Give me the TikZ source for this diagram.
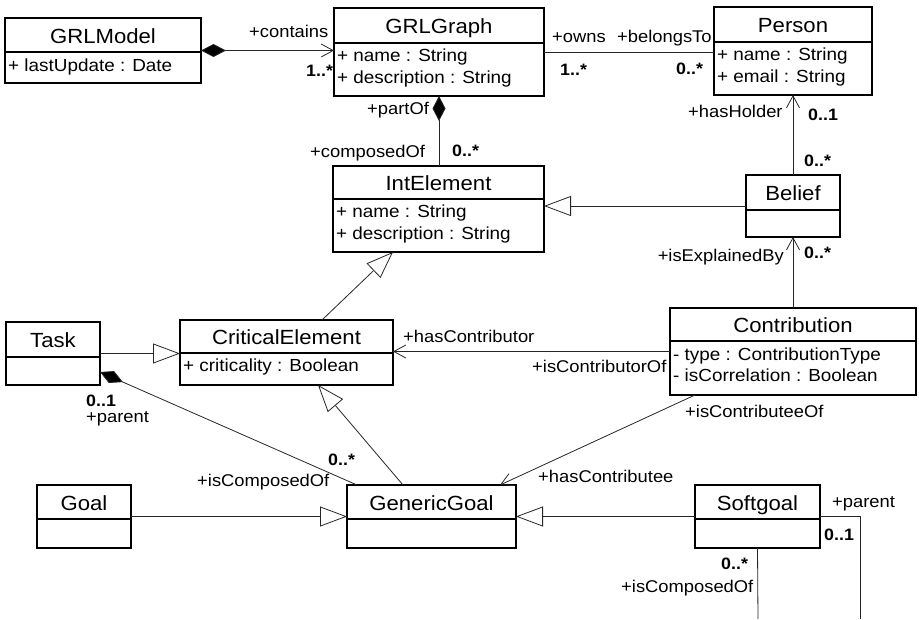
\documentclass[tikz,border=0pt]{standalone}
\usepackage{fontspec}
\setmainfont{Liberation Sans}[FakeStretch=1.08]
\usetikzlibrary{arrows.meta,calc}
\tikzset{
  clsbox/.style={draw=black, line width=1.1pt, rectangle, inner sep=0pt, outer sep=0pt},
  clsline/.style={draw=black, line width=1.1pt},
  ttl/.style={inner sep=0pt, anchor=mid, font=\fontsize{20.5}{24}\selectfont},
  attr/.style={inner sep=0pt, anchor=mid west, font=\fontsize{17.5}{21}\selectfont},
  lab/.style={inner sep=0pt, anchor=mid west, font=\fontsize{17}{20}\selectfont},
  mult/.style={inner sep=0pt, anchor=mid west, font=\fontsize{16.5}{20}\selectfont\bfseries},
  conn/.style={draw=black!85, line width=0.8pt},
  nav/.style={-{Straight Barb[length=12pt,width=13pt]}},
  gen/.style={-{Triangle[open,length=27pt,width=20pt,fill=white]}},
  comp/.style={{Diamond[length=25pt,width=13pt,fill=black]}-},
  compnav/.style={{Diamond[length=25pt,width=13pt,fill=black]}-{Straight Barb[length=12pt,width=13pt]}},
}
\newcommand\umlclass[7]{%
  \node[clsbox, minimum width={(#4-#2)*1pt}, minimum height={(#5-#3)*1pt}, anchor=north west] (#1) at (#2,#3) {};
  \draw[clsline] (#2,#6) -- (#4,#6);
  \node[ttl] (#1-title) at ({(#2+#4)/2},{(#3+#6)/2+5.5}) {#7};
}
\begin{document}
\begin{tikzpicture}[x=1pt,y=-1pt]
\useasboundingbox (0,0) rectangle (919,619);

% classes
\umlclass{grlmodel}{5}{18}{201}{83}{52}{GRLModel}
\node[attr] (grlmodel-a1) at (8,69) {+ lastUpdate : Date};

\umlclass{grlgraph}{334}{8}{544}{96}{43}{GRLGraph}
\node[attr] (grlgraph-a1) at (337,59) {+ name : String};
\node[attr] (grlgraph-a2) at (337,81) {+ description : String};

\umlclass{person}{714}{7}{872}{95}{42}{Person}
\node[attr] (person-a1) at (717,58) {+ name : String};
\node[attr] (person-a2) at (717,80) {+ email : String};

\umlclass{intel}{333}{166}{544}{252}{199}{IntElement}
\node[attr] (intel-a1) at (336,215) {+ name : String};
\node[attr] (intel-a2) at (336,237) {+ description : String};

\umlclass{belief}{746}{175}{840}{237}{210}{Belief}

\umlclass{task}{6}{322}{100}{385}{357}{Task}

\umlclass{crit}{180}{320}{393}{385}{353}{CriticalElement}
\node[attr] (crit-a1) at (183,369) {+ criticality : Boolean};

\umlclass{goal}{37}{485}{131}{548}{519}{Goal}
\umlclass{gengoal}{347}{485}{516}{548}{519}{GenericGoal}

\umlclass{contrib}{670}{308}{916}{395}{341}{Contribution}
\node[attr] (contrib-a1) at (673,358) {- type : ContributionType};
\node[attr] (contrib-a2) at (673,379) {- isCorrelation : Boolean};

\umlclass{softgoal}{695}{485}{820}{548}{519}{Softgoal}

% loose ends of the Softgoal self association
\coordinate (sgloopA) at (860,619);
\coordinate (sgloopB) at (758,619);

% connectors
\draw[conn, compnav] (grlmodel.east) -- (grlmodel.east -| grlgraph.west);
\draw[conn] (grlgraph.east) -- (grlgraph.east -| person.west);
\draw[conn, comp] (grlgraph.south) -- (grlgraph.south |- intel.north);
\draw[conn, nav] (belief.north) -- (belief.north |- person.south);
\draw[conn, gen] (belief.west) -- (belief.west -| intel.east);
\draw[conn, nav] (contrib.north) -- (contrib.north |- belief.south);
\draw[conn, gen] ($(crit.north west)+(142,0)$) -- ($(intel.south west)+(60,0)$);
\draw[conn, gen] (task.east) -- (task.east -| crit.west);
\draw[conn, nav] (contrib.west) -- (contrib.west -| crit.east);
\draw[conn, comp] ($(task.south east)+(0,-13)$) -- ($(gengoal.north west)+(10,0)$);
\draw[conn, gen] ($(gengoal.north west)+(56,0)$) -- ($(crit.south west)+(138,0)$);
\draw[conn, gen] (goal.east) -- (goal.east -| gengoal.west);
\draw[conn, nav] ($(contrib.south west)+(25,0)$) -- ($(gengoal.north east)+(-16,0)$);
\draw[conn, gen] (softgoal.west) -- (softgoal.west -| gengoal.east);
\draw[conn] (softgoal.east) -| (sgloopA);
\draw[conn] (softgoal.south |- softgoal.south) -- (sgloopB);

% role names and multiplicities
\node[lab] (l1) at (249,35) {+contains};
\node[mult] (m1) at (306,74) {1..*};
\node[lab] (l2) at (552,40) {+owns};
\node[lab] (l3) at (617,40) {+belongsTo};
\node[mult] (m2) at (560,73) {1..*};
\node[mult] (m3) at (676,72) {0..*};
\node[lab] (l4) at (367,112) {+partOf};
\node[lab] (l5) at (310,155) {+composedOf};
\node[mult] (m4) at (452,154) {0..*};
\node[lab] (l6) at (688,115) {+hasHolder};
\node[mult] (m5) at (808,118) {0..1};
\node[mult] (m6) at (804,164) {0..*};
\node[lab, anchor=mid east] (l7) at (784,259) {+isExplainedBy};
\node[mult] (m7) at (804,256) {0..*};
\node[lab] (l8) at (403,340) {+hasContributor};
\node[lab] (l9) at (532,370) {+isContributorOf};
\node[lab] (l10) at (685,415) {+isContributeeOf};
\node[lab] (l11) at (538,480) {+hasContributee};
\node[mult] (m8) at (86,404) {0..1};
\node[lab] (l12) at (86,420) {+parent};
\node[mult] (m9) at (328,463) {0..*};
\node[lab] (l13) at (197,484) {+isComposedOf};
\node[lab] (l14) at (832,505) {+parent};
\node[mult] (m10) at (824,538) {0..1};
\node[mult] (m11) at (721,567) {0..*};
\node[lab] (l15) at (621,590) {+isComposedOf};
\end{tikzpicture}
\end{document}
